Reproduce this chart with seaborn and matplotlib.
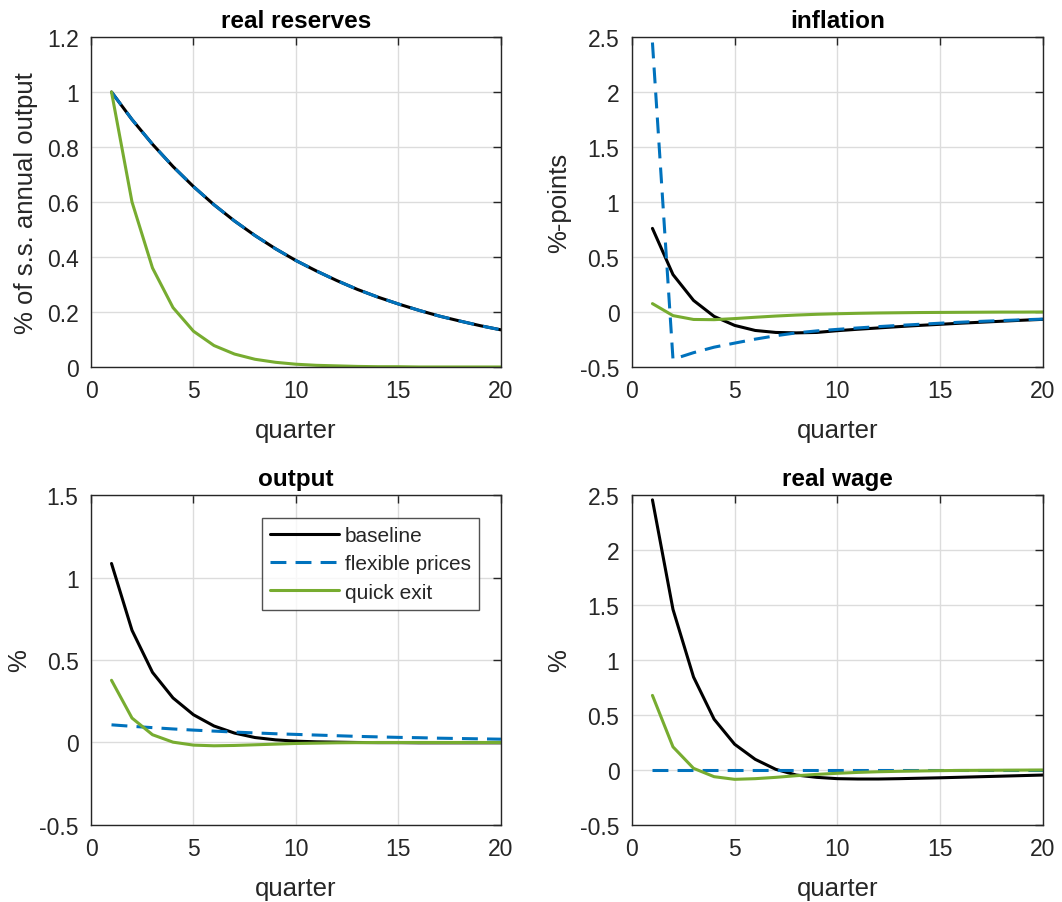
import numpy as np
import pandas as pd
import matplotlib
matplotlib.use("Agg")
import matplotlib.pyplot as plt
import seaborn as sns

# quarters 1..20
quarters = list(range(1, 21))
series_names = ["baseline", "flexible prices", "quick exit"]

# real reserves (% of s.s. annual output)
reserves_base = [1.0, 0.9, 0.81, 0.729, 0.656, 0.59, 0.531, 0.478, 0.43, 0.387,
                 0.349, 0.314, 0.282, 0.254, 0.229, 0.206, 0.185, 0.167, 0.15, 0.135]
reserves_flex = [1.0, 0.9, 0.81, 0.729, 0.656, 0.59, 0.531, 0.478, 0.43, 0.387,
                 0.349, 0.314, 0.282, 0.254, 0.229, 0.206, 0.185, 0.167, 0.15, 0.135]
reserves_quick = [1.0, 0.6, 0.36, 0.216, 0.13, 0.078, 0.047, 0.028, 0.017, 0.01,
                  0.006, 0.004, 0.002, 0.001, 0.001, 0.0, 0.0, 0.0, 0.0, 0.0]

# inflation (%-points)
infl_base = [0.76, 0.34, 0.105, -0.04, -0.122, -0.168, -0.186, -0.19, -0.186, -0.17,
             -0.157, -0.145, -0.133, -0.122, -0.112, -0.102, -0.093, -0.084, -0.075, -0.067]
infl_flex = [2.45, -0.43, -0.37, -0.32, -0.283, -0.247, -0.216, -0.19, -0.172, -0.158,
             -0.145, -0.133, -0.122, -0.112, -0.102, -0.093, -0.085, -0.078, -0.071, -0.065]
infl_quick = [0.076, -0.033, -0.068, -0.07, -0.06, -0.048, -0.037, -0.028, -0.021, -0.016,
              -0.012, -0.009, -0.007, -0.005, -0.004, -0.003, -0.002, -0.001, -0.001, 0.0]

# output (%)
output_base = [1.085, 0.68, 0.425, 0.27, 0.168, 0.1, 0.057, 0.03, 0.016, 0.008,
               0.004, 0.002, 0.0, -0.001, -0.001, -0.002, -0.002, -0.002, -0.002, -0.002]
output_flex = [0.107, 0.098, 0.09, 0.082, 0.075, 0.069, 0.063, 0.058, 0.053, 0.049,
               0.045, 0.041, 0.037, 0.034, 0.031, 0.029, 0.026, 0.024, 0.022, 0.02]
output_quick = [0.377, 0.148, 0.047, 0.002, -0.016, -0.02, -0.018, -0.014, -0.01, -0.006,
                -0.004, -0.002, -0.001, 0.0, 0.0, 0.0, 0.0, 0.0, 0.0, 0.0]

# real wage (%)
wage_base = [2.456, 1.46, 0.845, 0.462, 0.234, 0.097, 0.006, -0.046, -0.067, -0.079,
             -0.082, -0.082, -0.079, -0.075, -0.071, -0.066, -0.061, -0.056, -0.051, -0.046]
wage_flex = [0.0] * 20
wage_quick = [0.678, 0.21, 0.015, -0.061, -0.085, -0.079, -0.067, -0.052, -0.04, -0.03,
              -0.022, -0.016, -0.012, -0.009, -0.006, -0.004, -0.003, -0.002, -0.001, 0.0]

panels = [
    ("real reserves", "% of s.s. annual output", (reserves_base, reserves_flex, reserves_quick), (0, 1.2), 0.2),
    ("inflation", "%-points", (infl_base, infl_flex, infl_quick), (-0.5, 2.5), 0.5),
    ("output", "%", (output_base, output_flex, output_quick), (-0.5, 1.5), 0.5),
    ("real wage", "%", (wage_base, wage_flex, wage_quick), (-0.5, 2.5), 0.5),
]

sns.set_theme(style="whitegrid")
plt.rcParams["font.family"] = ["Liberation Sans", "DejaVu Sans"]
plt.rcParams["axes.unicode_minus"] = False

palette = {"baseline": "#000000", "flexible prices": "#0072BD", "quick exit": "#77AC30"}
dashes = {"baseline": "", "flexible prices": (5.2, 3), "quick exit": ""}

fig = plt.figure(figsize=(10.62, 9.03), dpi=100)
positions = [
    [0.0857, 0.5925, 0.386, 0.3654],
    [0.595, 0.5925, 0.387, 0.3654],
    [0.0857, 0.0853, 0.386, 0.3654],
    [0.595, 0.0853, 0.387, 0.3654],
]

for i, (title, ylab, vals, ylim, step) in enumerate(panels):
    ax = fig.add_axes(positions[i])
    frames = []
    for name, v in zip(series_names, vals):
        frames.append(pd.DataFrame({"quarter": quarters, "value": v, "series": name}))
    df = pd.concat(frames, ignore_index=True)
    sns.lineplot(data=df, x="quarter", y="value", hue="series", style="series",
                 palette=palette, dashes=dashes, hue_order=series_names,
                 style_order=series_names, linewidth=2.2, ax=ax, legend=(i == 2))
    ax.set_xlim(0, 20)
    ax.set_ylim(*ylim)
    yt = np.round(np.arange(ylim[0], ylim[1] + step / 2, step), 2)
    ax.set_xticks(np.arange(0, 21, 5))
    ax.set_yticks(yt)
    ax.set_yticklabels([f"{t:g}" for t in yt])
    ax.set_title(title, fontsize=17.5, fontweight="bold", pad=7, color="black")
    ax.set_xlabel("quarter", fontsize=18.5, color="#262626", labelpad=11)
    ax.set_ylabel(ylab, fontsize=18.5, color="#262626", labelpad=6)
    ax.grid(True, color="#dcdcdc", linewidth=1)
    ax.tick_params(direction="in", top=True, right=True, length=6, width=1,
                   color="#262626", labelsize=16.5, labelcolor="#262626", pad=9)
    for sp in ax.spines.values():
        sp.set_color("#262626")
        sp.set_linewidth(1)
    if i == 2:
        leg = ax.legend(loc="upper right", bbox_to_anchor=(0.946, 0.930), fontsize=15,
                        frameon=True, fancybox=False, edgecolor="#262626",
                        handlelength=3.3, borderpad=0.38, labelspacing=0.45,
                        handletextpad=0.29, borderaxespad=0)
        leg.get_frame().set_linewidth(1)

fig.savefig("out.png", dpi=100)
